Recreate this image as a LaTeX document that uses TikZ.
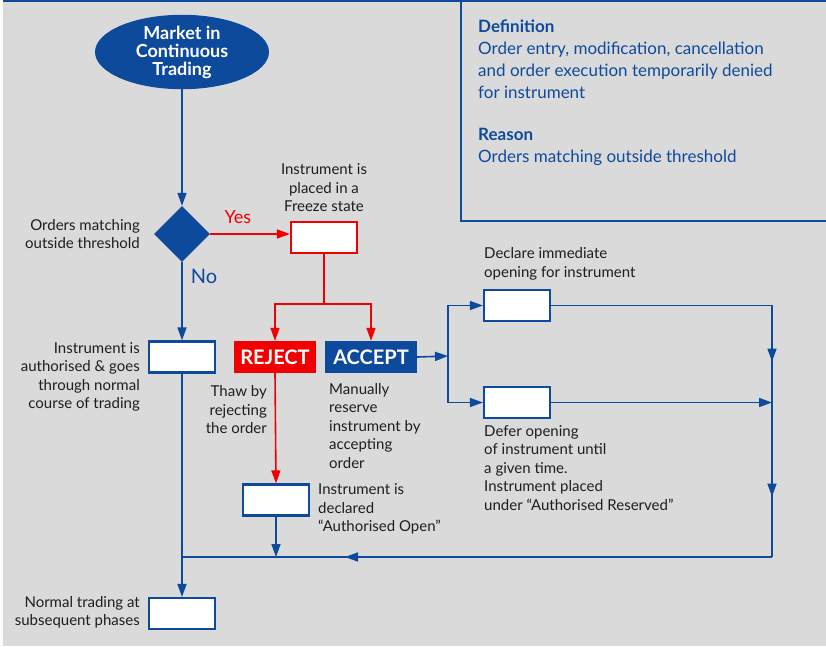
\documentclass[tikz,border=0pt]{standalone}
\usepackage{fontspec}
\setmainfont{Lato}
\usetikzlibrary{shapes.geometric,arrows.meta,decorations.markings}

\definecolor{lsegray}{RGB}{218,218,218}
\definecolor{lseblue}{RGB}{14,74,155}
\definecolor{lsered}{RGB}{240,0,0}
\definecolor{lbltext}{RGB}{30,30,30}

\tikzset{
  tip/.style={-{Triangle[length=13pt,width=9pt]}},
  line/.style={draw=lseblue,line width=1.6pt},
  flow/.style={line,tip},
  redline/.style={draw=lsered,line width=1.6pt},
  redflow/.style={redline,tip},
  box/.style={draw=lseblue,fill=white,line width=2.2pt,minimum width=66pt,minimum height=31pt,inner sep=0pt},
  redbox/.style={box,draw=lsered},
  label/.style={text=lbltext,font=\fontsize{15}{18.5}\selectfont,inner sep=0pt},
  bigbtn/.style={text=white,font=\bfseries\fontsize{20}{22}\selectfont,minimum height=32pt,inner sep=0pt},
}

\begin{document}
\begin{tikzpicture}[x=1pt,y=-1pt]
  \useasboundingbox (0,0) rectangle (826,646);
  % background and frame
  \fill[lsegray] (3,0) rectangle (826,646);
  \fill[lseblue] (3,0) rectangle (826,2);
  \draw[lseblue,line width=1.3pt] (461,0) -- (461,221) -- (826,221);

  % definition panel
  \node[anchor=north west,align=left,text=lseblue,inner sep=0pt,
        font=\fontsize{17}{22}\selectfont] (defn) at (478,20)
    {\textbf{Definition}\\Order entry, modification, cancellation\\and order execution temporarily denied\\for instrument\\[20pt]\textbf{Reason}\\Orders matching outside threshold};

  % main flow
  \node[ellipse,fill=lseblue,minimum width=174pt,minimum height=64pt,inner sep=0pt,
        text=white,align=center,font=\bfseries\fontsize{18}{18}\selectfont] (market) at (182,52)
    {Market in\\Continuous\\Trading};
  \node[diamond,fill=lseblue,minimum width=56pt,minimum height=56pt,inner sep=0pt] (check) at (182,234) {};
  \node[label,anchor=east,align=right] (checklbl) at (140,234) {Orders matching\\outside threshold};

  \node[redbox] (freeze) at (324,237.5) {};
  \node[label,align=center] (freezelbl) at (324,188) {Instrument is\\placed in a\\Freeze state};
  \node[text=lsered,font=\fontsize{18}{18}\selectfont,inner sep=0pt] (yes) at (238,217) {Yes};
  \node[text=lseblue,font=\fontsize{20}{20}\selectfont,inner sep=0pt] (no) at (204,276) {No};

  \node[box] (authorised) at (182,357) {};
  \node[label,anchor=east,align=right] (authlbl) at (140,377)
    {Instrument is\\authorised \& goes\\through normal\\course of trading};

  \node[bigbtn,fill=lsered,minimum width=82pt] (reject) at (275,357) {REJECT};
  \node[bigbtn,fill=lseblue,minimum width=92pt] (accept) at (371,357) {ACCEPT};
  \node[label,anchor=east,align=right] (thawlbl) at (267,410) {Thaw by\\rejecting\\the order};
  \node[label,anchor=west,align=left] (manuallbl) at (329,426)
    {Manually\\reserve\\instrument by\\accepting\\order};

  \node[box] (authopen) at (276,500) {};
  \node[label,anchor=west,align=left] (openlbl) at (318,509)
    {Instrument is\\declared\\“Authorised Open”};

  \node[box] (immediate) at (517,305.5) {};
  \node[label,anchor=west,align=left] (immlbl) at (484,264)
    {Declare immediate\\opening for instrument};
  \node[box] (deferred) at (517,402.5) {};
  \node[label,anchor=west,align=left] (deflbl) at (484,468)
    {Defer opening\\of instrument until\\a given time.\\Instrument placed\\under “Authorised Reserved”};

  \node[box] (normal) at (182,613.5) {};
  \node[label,anchor=east,align=right] (normallbl) at (140,612)
    {Normal trading at\\subsequent phases};

  \coordinate (rsplit) at (324,304);
  \coordinate (ajunc) at (448,356);
  \coordinate (rtop) at (772,305.5);
  \coordinate (rbot) at (772,557);
  \coordinate (lbot) at (182,557);

  % connectors
  \draw[flow] (market) -- (check);
  \draw[redflow] (check.east) -- (check.east -| freeze.west);
  \draw[flow] (check.south) -- (authorised.north);
  \draw[flow] (authorised.south) -- (normal.north);
  \draw[redline] (freeze.south) -- (rsplit);
  \draw[redflow] (rsplit) -| (reject.north);
  \draw[redflow] (rsplit) -| (accept.north);
  \draw[redflow] (reject.south) -- (authopen.north);
  \draw[flow] (authopen.south) -- (authopen.south |- rbot);
  \draw[flow] (accept.east) -- (ajunc);
  \draw[flow] (ajunc) |- (immediate.west);
  \draw[flow] (ajunc) |- (deferred.west);
  \draw[flow] (deferred.east) -- (deferred.east -| rtop);
  \draw[line,postaction={decorate},decoration={markings,
      mark=at position 277pt with {\arrow{Triangle[length=13pt,width=9pt]}},
      mark=at position 412pt with {\arrow{Triangle[length=13pt,width=9pt]}}}]
    (immediate.east) -- (rtop) -- (rbot);
  \draw[line,postaction={decorate},decoration={markings,
      mark=at position 427pt with {\arrow{Triangle[length=13pt,width=9pt]}}}]
    (rbot) -- (lbot);
\end{tikzpicture}
\end{document}
